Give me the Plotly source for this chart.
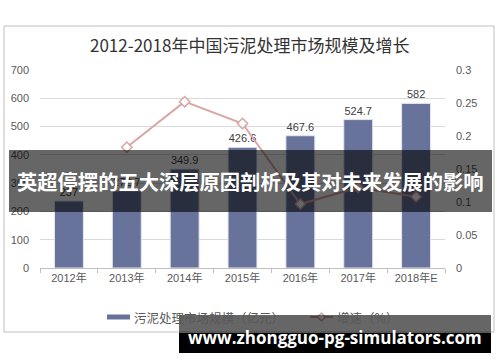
import plotly.graph_objects as go

categories = ["2012年", "2013年", "2014年", "2015年", "2016年", "2017年", "2018年E"]
market_size = [237, 272.7, 349.9, 426.6, 467.6, 524.7, 582]
growth_rate = [None, 0.183, 0.252, 0.219, 0.097, 0.122, 0.108]
bar_labels = [str(v) for v in market_size]

title_text = "2012-2018年中国污泥处理市场规模及增长"
bar_name = "污泥处理市场规模（亿元）"
line_name = "增速（%）"
banner_text = "英超停摆的五大深层原因剖析及其对未来发展的影响"
url_text = "www.zhongguo-pg-simulators.com"

W, H = 500, 362
L, R, T, B = 40, 445, 70, 268  # plot area in pixels

BAR_COLOR = "#68739B"
LINE_COLOR = "#D9A5A5"


def px(x):
    return (x - L) / (R - L)


def py(y):
    return (B - y) / (B - T)


base_font = "Liberation Sans, Arial, Noto Sans CJK SC, sans-serif"

fig = go.Figure()
fig.add_trace(go.Bar(
    x=categories, y=market_size, name=bar_name,
    marker=dict(color=BAR_COLOR, line=dict(color="#E4E6F0", width=1)),
    text=bar_labels, textposition="outside", cliponaxis=False,
    textfont=dict(size=11, color="#404040", family=base_font),
    yaxis="y", showlegend=False,
))
fig.add_trace(go.Scatter(
    x=categories, y=growth_rate, name=line_name, mode="lines+markers",
    line=dict(color=LINE_COLOR, width=2),
    marker=dict(symbol="diamond", size=8, color="white",
                line=dict(color=LINE_COLOR, width=1.5)),
    yaxis="y2", connectgaps=False, showlegend=False,
))

# legend marker positions (pixels)
leg_y = 317
lx1a, lx1b = 107, 130
lx2a, lx2b = 310, 333
dmx, dmr = (lx2a + lx2b) / 2, 4

shapes = [
    # chart frame
    dict(type="rect", xref="paper", yref="paper",
         x0=px(4), x1=px(494), y0=py(332), y1=py(26),
         line=dict(color="#BFBFBF", width=1), fillcolor="rgba(0,0,0,0)", layer="below"),
    # legend: bar swatch
    dict(type="rect", xref="paper", yref="paper",
         x0=px(lx1a), x1=px(lx1b), y0=py(leg_y + 2.5), y1=py(leg_y - 2.5),
         line=dict(width=0), fillcolor=BAR_COLOR, layer="below"),
    # legend: line swatch
    dict(type="line", xref="paper", yref="paper",
         x0=px(lx2a), x1=px(lx2b), y0=py(leg_y), y1=py(leg_y),
         line=dict(color=LINE_COLOR, width=2), layer="below"),
    dict(type="path", xref="paper", yref="paper",
         path=(f"M {px(dmx - dmr)},{py(leg_y)} L {px(dmx)},{py(leg_y - dmr)} "
               f"L {px(dmx + dmr)},{py(leg_y)} L {px(dmx)},{py(leg_y + dmr)} Z"),
         line=dict(color=LINE_COLOR, width=1.5), fillcolor="white", layer="below"),
    # top banner
    dict(type="rect", xref="paper", yref="paper",
         x0=px(9), x1=px(492), y0=py(212), y1=py(150),
         line=dict(width=0), fillcolor="rgba(0,0,0,0.6)", layer="above"),
    # bottom banner (semi-transparent over chart)
    dict(type="rect", xref="paper", yref="paper",
         x0=px(179), x1=px(491), y0=py(333), y1=py(315),
         line=dict(width=0), fillcolor="rgba(0,0,0,0.6)", layer="above"),
    # bottom banner (solid below chart)
    dict(type="rect", xref="paper", yref="paper",
         x0=px(179), x1=px(491), y0=py(353), y1=py(333),
         line=dict(width=0), fillcolor="rgba(0,0,0,1)", layer="above"),
]

annotations = [
    dict(text=title_text, xref="paper", yref="paper", x=px(249), y=py(45),
         xanchor="center", yanchor="middle", showarrow=False,
         font=dict(size=17, color="#333333", family="Noto Sans CJK SC, sans-serif")),
    dict(text=bar_name, xref="paper", yref="paper", x=px(lx1b + 2), y=py(leg_y),
         xanchor="left", yanchor="middle", showarrow=False,
         font=dict(size=12.5, color="#595959", family="Noto Sans CJK SC, sans-serif")),
    dict(text=line_name, xref="paper", yref="paper", x=px(lx2b + 2), y=py(leg_y),
         xanchor="left", yanchor="middle", showarrow=False,
         font=dict(size=12.5, color="#595959", family="Noto Sans CJK SC, sans-serif")),
    dict(text="<b>" + banner_text + "</b>", xref="paper", yref="paper",
         x=px(250), y=py(181), xanchor="center", yanchor="middle", showarrow=False,
         font=dict(size=20.3, color="white", family="Noto Sans CJK SC, sans-serif")),
    dict(text="<b>" + url_text + "</b>", xref="paper", yref="paper",
         x=px(335), y=py(337), xanchor="center", yanchor="middle", showarrow=False,
         font=dict(size=17, color="white", family="Open Sans, DejaVu Sans, sans-serif")),
]

fig.update_layout(
    width=W, height=H,
    margin=dict(l=L, r=W - R, t=T, b=H - B, pad=0, autoexpand=False),
    paper_bgcolor="white", plot_bgcolor="white",
    font=dict(family=base_font, size=11, color="#595959"),
    bargap=0.5,
    showlegend=False,
    xaxis=dict(type="category", showgrid=False, showline=True, linecolor="#BFBFBF",
               ticks="outside", tickson="boundaries", ticklen=4, tickcolor="#BFBFBF",
               tickfont=dict(size=11, color="#595959")),
    yaxis=dict(range=[0, 700], dtick=100, showgrid=True, gridcolor="#D9D9D9",
               showline=False, zeroline=False, ticks="", ticklabelstandoff=10,
               tickfont=dict(size=11, color="#595959")),
    yaxis2=dict(range=[0, 0.3], dtick=0.05, overlaying="y", side="right",
                showgrid=False, showline=False, zeroline=False, ticks="",
                ticklabelstandoff=10, tickformat="~g",
                tickfont=dict(size=11, color="#595959")),
    shapes=shapes, annotations=annotations,
)

fig.write_html("out.html", config={"displayModeBar": False},
               post_script="document.body.style.margin='0';")
